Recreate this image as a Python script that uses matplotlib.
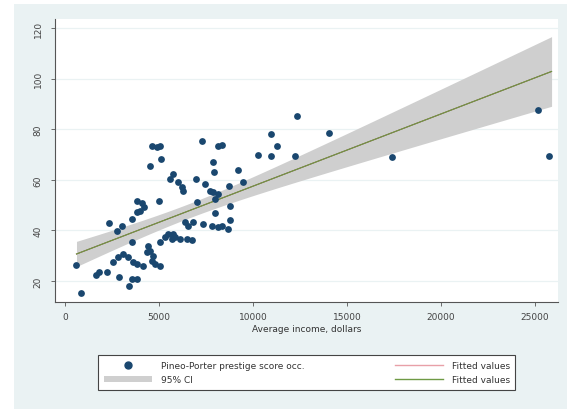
import numpy as np
import matplotlib
matplotlib.use("Agg")
import matplotlib.pyplot as plt
from matplotlib.patches import Rectangle, Patch
from matplotlib.lines import Line2D

# Average income (dollars) and Pineo-Porter prestige score
income = [600, 850, 1630, 1790, 2250, 2870, 3400, 3550, 3810,
          2340, 2750, 3015, 2570, 2835, 3100, 3370, 3630, 3810, 4170,
          3550, 3810, 3850, 4080, 4200, 3990, 4520, 4610, 4880, 5050,
          5090, 5000, 4430, 4520, 4700, 4610, 4790, 5050, 4345,
          5050, 5320, 5495, 5675, 5850, 6120, 6470, 6740, 5760, 3550,
          5585, 5760, 6030, 6210, 6260, 6380, 6560, 6830, 7000,
          6950, 7300, 7450, 7710, 7890, 8150, 7980, 7890, 7940,
          8150, 8330, 7360, 7800, 8150, 8330, 8690, 8780, 8780,
          8720, 9190, 9480, 10280, 10940, 10940, 11260, 12230, 12320,
          14040, 17410, 25140, 25760, 7980]
prestige = [26.4, 15.3, 22.4, 23.4, 23.7, 21.5, 18.2, 20.8, 20.8,
            42.9, 39.9, 41.9, 27.4, 29.4, 30.7, 29.4, 27.4, 26.7, 26.0,
            44.5, 47.2, 51.7, 50.8, 49.1, 47.8, 65.6, 73.5, 72.9, 73.5,
            68.2, 51.7, 34.0, 32.0, 30.0, 28.0, 26.7, 26.0, 31.3,
            35.3, 37.3, 38.6, 36.6, 37.3, 36.6, 36.6, 36.3, 38.6, 35.3,
            60.3, 62.3, 59.0, 57.0, 55.7, 43.2, 41.9, 43.2, 51.1,
            60.3, 75.5, 58.3, 55.7, 55.1, 54.4, 52.4, 66.9, 63.0,
            73.5, 73.8, 42.5, 41.9, 41.2, 41.9, 40.6, 44.2, 49.8,
            57.7, 63.8, 59.0, 69.9, 69.5, 78.1, 73.5, 69.5, 85.3,
            78.4, 68.9, 87.6, 69.5, 47.0]

xticks = [0, 5000, 10000, 15000, 20000, 25000]
yticks = [20, 40, 60, 80, 100, 120]

x = np.array(income, dtype=float)
y = np.array(prestige, dtype=float)

# linear fit with 95% confidence band
slope, intercept = np.polyfit(x, y, 1)
n = len(x)
resid = y - (intercept + slope * x)
s = np.sqrt(np.sum(resid ** 2) / (n - 2))
sxx = np.sum((x - x.mean()) ** 2)
t_crit = 1.99
xs = np.linspace(611, 25879, 200)
fit = intercept + slope * xs
se = s * np.sqrt(1 / n + (xs - x.mean()) ** 2 / sxx)

bg = "#EAF2F3"
band = "#CFCFCF"
green = "#6F9A45"
fig = plt.figure(figsize=(5.75, 4.14), dpi=100)
fig.patches.append(Rectangle((0.0243, 0.0097), 0.962, 0.978,
                             transform=fig.transFigure, facecolor=bg,
                             edgecolor="none", zorder=-10))

ax = fig.add_axes([0.0957, 0.268, 0.8747, 0.6835])
ax.set_facecolor("white")

ax.fill_between(xs, fit - t_crit * se, fit + t_crit * se, color=band,
                linewidth=0, zorder=2)
ax.plot(xs, fit, color="#90353B", lw=0.7, zorder=3)
ax.plot(xs, fit, color=green, lw=0.8, zorder=4)
ax.scatter(x, y, s=24, color="#1A476F", linewidths=0, zorder=5)

ax.set_xlim(-530, 26220)
ax.set_ylim(11.7, 123.5)
ax.set_xticks(xticks)
ax.set_yticks(yticks)
ax.set_yticklabels([str(v) for v in yticks], rotation=90, va="center")
ax.tick_params(labelsize=6.5, length=3, width=0.6, color="#555555",
               labelcolor="#444444")
ax.tick_params(axis="y", pad=6)
ax.tick_params(axis="x", pad=4)
ax.grid(axis="y", color=bg, lw=0.9)
ax.set_axisbelow(True)
for side in ["top", "right"]:
    ax.spines[side].set_visible(False)
for side in ["left", "bottom"]:
    ax.spines[side].set_color("#555555")
    ax.spines[side].set_linewidth(0.8)
ax.set_xlabel("Average income, dollars", fontsize=6.5, color="#333333",
              labelpad=2)

handles = [
    Line2D([], [], marker="o", linestyle="none", color="#1A476F", markersize=5),
    Patch(facecolor=band, edgecolor="none"),
    Line2D([], [], color="#E8A0A8", lw=1),
    Line2D([], [], color=green, lw=1),
]
labels = ["Pineo-Porter prestige score occ.", "95% CI",
          "Fitted values", "Fitted values"]
leg = fig.legend(handles, labels, ncol=2, loc="center", mode="expand",
                 bbox_to_anchor=(0.163, 0.0386, 0.741, 0.118),
                 fontsize=6.5, frameon=True, fancybox=False,
                 edgecolor="#444444", framealpha=1, handlelength=5.3,
                 handletextpad=1.0, borderpad=0.6, labelspacing=0.6)
leg.get_frame().set_linewidth(0.8)
for t in leg.get_texts():
    t.set_color("#333333")

fig.savefig("out.png", dpi=100)
